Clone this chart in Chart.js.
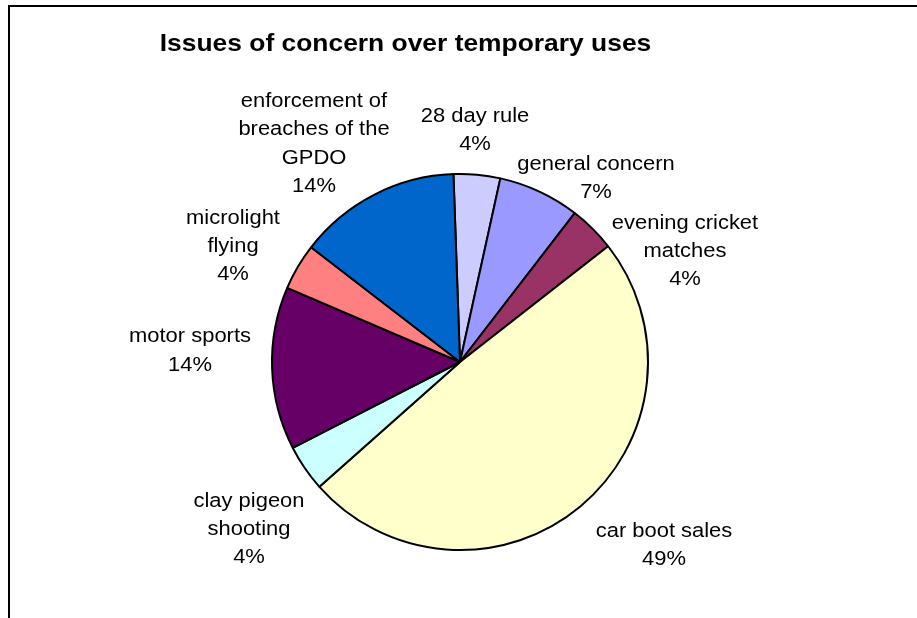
<!DOCTYPE html>
<html>
<head>
<meta charset="utf-8">
<title>Issues of concern over temporary uses</title>
<script src="https://cdn.jsdelivr.net/npm/chart.js@4.4.1/dist/chart.umd.min.js"></script>
<style>
  html, body { margin: 0; padding: 0; background: #fff; }
  #wrap { width: 917px; height: 618px; }
</style>
</head>
<body>
<div id="wrap"><canvas id="pieIssues" width="917" height="618"></canvas></div>
<script>
// categorias en el orden de la tarta (sentido horario desde arriba)
const categorias = [
  ["28 day rule"],
  ["general concern"],
  ["evening cricket", "matches"],
  ["car boot sales"],
  ["clay pigeon", "shooting"],
  ["motor sports"],
  ["microlight", "flying"],
  ["enforcement of", "breaches of the", "GPDO"]
];
const porcentajes = [4, 7, 4, 49, 4, 14, 4, 14];
const colores = ["#ccccff", "#9999ff", "#993366", "#ffffcc", "#ccffff", "#660066", "#ff8080", "#0066cc"];

const titulo = "Issues of concern over temporary uses";

// desplazamiento de cada etiqueta respecto al centro de la tarta
const posEtiquetas = [
  [15, -233], [136, -185], [225, -112], [204, 182],
  [-211, 166], [-270, -12.5], [-227, -117], [-146, -219.5]
];

const FUENTE = "'Liberation Sans', Arial, sans-serif";
const ALTO_LINEA = 28.3;
const ESTIRAR = 1.07;

// texto algo ensanchado horizontalmente
function textoAncho(ctx, txt, x, y, escala) {
  ctx.save();
  ctx.translate(x, y);
  ctx.scale(escala, 1);
  ctx.fillText(txt, 0, 0);
  ctx.restore();
}

const marcoYTextos = {
  id: "marcoYTextos",
  beforeDraw(chart) {
    const ctx = chart.ctx;
    ctx.save();
    ctx.fillStyle = "#fff";
    ctx.fillRect(0, 0, chart.width, chart.height);
    ctx.strokeStyle = "#000";
    ctx.lineWidth = 2;
    ctx.beginPath();
    ctx.moveTo(9, chart.height);
    ctx.lineTo(9, 6);
    ctx.lineTo(chart.width, 6);
    ctx.stroke();
    ctx.restore();
  },
  afterDraw(chart) {
    const ctx = chart.ctx;
    const arco = chart.getDatasetMeta(0).data[0];
    const cx = arco.x, cy = arco.y;

    ctx.save();
    ctx.fillStyle = "#000";
    ctx.textAlign = "center";
    ctx.textBaseline = "alphabetic";

    ctx.font = "bold 24px " + FUENTE;
    textoAncho(ctx, titulo, 405.5, 51, 1.1);

    ctx.font = "20.5px " + FUENTE;
    categorias.forEach((lineas, i) => {
      const texto = lineas.concat([porcentajes[i] + "%"]);
      const [dx, dy] = posEtiquetas[i];
      const y0 = cy + dy - (texto.length - 1) * ALTO_LINEA / 2;
      texto.forEach((t, j) => {
        textoAncho(ctx, t, cx + dx, y0 + j * ALTO_LINEA + 7, ESTIRAR);
      });
    });
    ctx.restore();
  }
};

new Chart(document.getElementById("pieIssues"), {
  type: "pie",
  data: {
    labels: categorias,
    datasets: [{
      data: porcentajes,
      backgroundColor: colores,
      borderColor: "#000",
      borderWidth: 2
    }]
  },
  options: {
    responsive: false,
    animation: false,
    radius: 188,
    rotation: -2,
    layout: { padding: { left: 3, top: 106, right: 0, bottom: 0 } },
    plugins: {
      legend: { display: false },
      tooltip: { enabled: false },
      title: { display: false }
    }
  },
  plugins: [marcoYTextos]
});
</script>
</body>
</html>
